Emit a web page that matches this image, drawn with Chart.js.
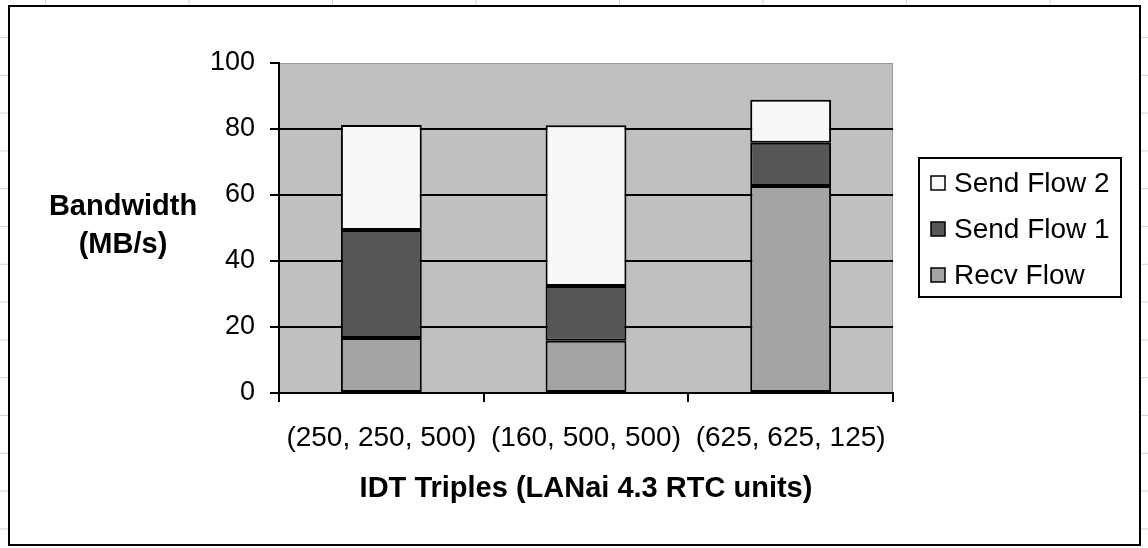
<!DOCTYPE html>
<html>
<head>
<meta charset="utf-8">
<script src="https://cdn.jsdelivr.net/npm/chart.js@4"></script>
<style>
  html, body { margin: 0; padding: 0; background: #fff; }
  #wrap { width: 1148px; height: 548px; }
</style>
</head>
<body>
<div id="wrap"><canvas id="bwChart" width="1148" height="548"></canvas></div>
<script>
// Data
const categories = ['(250, 250, 500)', '(160, 500, 500)', '(625, 625, 125)'];
const recvFlow = [16.7, 15.8, 62.7];
const sendFlow1 = [32.7, 16.6, 13.1];
const sendFlow2 = [31.8, 48.7, 13.1];
const yTitleLines = ['Bandwidth', '(MB/s)'];
const xTitle = 'IDT Triples (LANai 4.3 RTC units)';

const FONT = "'Liberation Sans', Arial, sans-serif";

// Sheet frame, plot background, y title and boxed legend
const excelLook = {
    id: 'excelLook',
    beforeDraw(chart) {
        const ctx = chart.ctx;
        const area = chart.chartArea;
        ctx.save();
        ctx.fillStyle = '#fff';
        ctx.fillRect(0, 0, chart.width, chart.height);

        // faint spreadsheet cells peeking out around the chart frame
        ctx.strokeStyle = '#d4d4d4';
        ctx.lineWidth = 1;
        for (let x = 45; x < chart.width; x += 143.5) {
            ctx.beginPath(); ctx.moveTo(x + 0.5, 0); ctx.lineTo(x + 0.5, 5); ctx.stroke();
        }
        for (let y = 37; y < chart.height; y += 37.8) {
            ctx.beginPath(); ctx.moveTo(0, y + 0.5); ctx.lineTo(8, y + 0.5); ctx.stroke();
            ctx.beginPath(); ctx.moveTo(1141, y + 0.5); ctx.lineTo(chart.width, y + 0.5); ctx.stroke();
        }

        ctx.strokeStyle = '#000';
        ctx.lineWidth = 2;
        ctx.strokeRect(9, 6, 1131, 539);

        ctx.fillStyle = '#c0c0c0';
        ctx.fillRect(area.left, area.top, area.right - area.left, area.bottom - area.top);
        ctx.strokeStyle = '#9a9a9a';
        ctx.lineWidth = 1;
        ctx.strokeRect(area.left + 0.5, area.top + 0.5, area.right - area.left - 1, area.bottom - area.top);
        ctx.restore();
    },
    afterDraw(chart) {
        const ctx = chart.ctx;
        ctx.save();
        ctx.fillStyle = '#000';
        ctx.textAlign = 'center';
        ctx.textBaseline = 'middle';
        ctx.font = 'bold 29px ' + FONT;
        ctx.fillText(yTitleLines[0], 123, 207);
        ctx.fillText(yTitleLines[1], 123, 245);

        // legend box, series listed top-down in reverse stacking order
        ctx.strokeStyle = '#000';
        ctx.lineWidth = 2;
        ctx.strokeRect(919, 158, 202, 139);
        ctx.font = '28px ' + FONT;
        ctx.textAlign = 'left';
        const sets = chart.data.datasets.slice().reverse();
        sets.forEach((ds, i) => {
            const cy = 183 + i * 46;
            ctx.fillStyle = ds.backgroundColor;
            ctx.fillRect(931, cy - 7, 14, 14);
            ctx.lineWidth = 1.5;
            ctx.strokeRect(931, cy - 7, 14, 14);
            ctx.fillStyle = '#000';
            ctx.fillText(ds.label, 954, cy + 1);
        });
        ctx.restore();
    }
};

const ctx = document.getElementById('bwChart').getContext('2d');

new Chart(ctx, {
    type: 'bar',
    data: {
        labels: categories,
        datasets: [
            {
                label: 'Recv Flow',
                data: recvFlow,
                backgroundColor: '#a4a4a4',
                borderColor: '#000',
                borderWidth: 2,
                borderSkipped: false
            },
            {
                label: 'Send Flow 1',
                data: sendFlow1,
                backgroundColor: '#565656',
                borderColor: '#000',
                borderWidth: 2,
                borderSkipped: false
            },
            {
                label: 'Send Flow 2',
                data: sendFlow2,
                backgroundColor: '#f8f8f8',
                borderColor: '#000',
                borderWidth: 2,
                borderSkipped: false
            }
        ]
    },
    options: {
        responsive: false,
        animation: false,
        barPercentage: 0.395,
        categoryPercentage: 1,
        layout: {
            padding: { left: 0, top: 63, right: 255, bottom: 0 }
        },
        plugins: {
            legend: { display: false },
            tooltip: { enabled: false }
        },
        scales: {
            x: {
                stacked: true,
                afterFit: (scale) => { scale.height = 155; },
                grid: {
                    drawOnChartArea: false,
                    drawTicks: true,
                    tickLength: 9,
                    color: '#000',
                    lineWidth: 2
                },
                border: { color: '#000', width: 2 },
                ticks: {
                    color: '#000',
                    padding: 19,
                    maxRotation: 0,
                    font: { family: FONT, size: 28 }
                },
                title: {
                    display: true,
                    text: xTitle,
                    color: '#000',
                    padding: { top: 0, bottom: 42 },
                    font: { family: FONT, size: 29, weight: 'bold' }
                }
            },
            y: {
                stacked: true,
                min: 0,
                max: 100,
                afterFit: (scale) => { scale.width = 279; },
                grid: {
                    color: (c) => (c.tick && c.tick.value === 100 ? 'rgba(0,0,0,0)' : '#000'),
                    tickColor: '#000',
                    lineWidth: 2,
                    tickLength: 9
                },
                border: { color: '#000', width: 2 },
                ticks: {
                    stepSize: 20,
                    color: '#000',
                    padding: 15,
                    font: { family: FONT, size: 27 }
                }
            }
        }
    },
    plugins: [excelLook]
});
</script>
</body>
</html>
